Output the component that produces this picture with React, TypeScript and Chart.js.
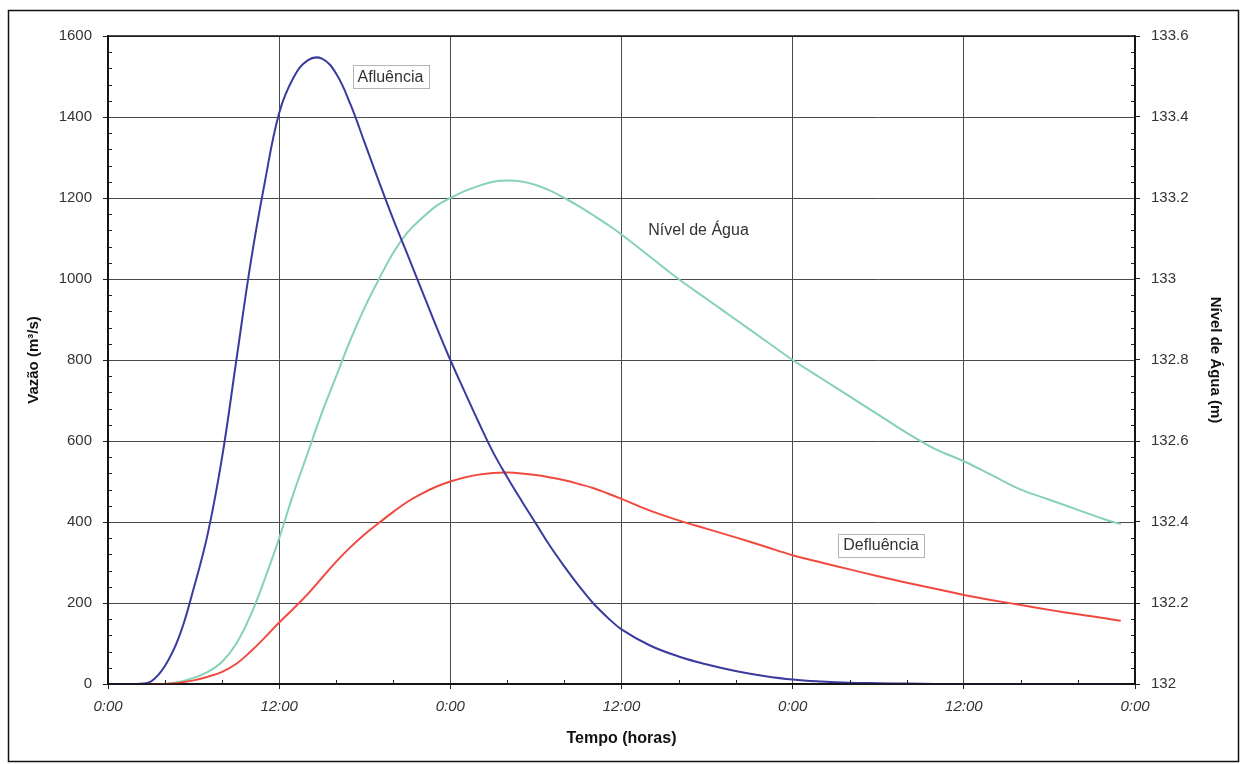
import React, { useEffect, useRef } from "react";
import { Chart, registerables } from "chart.js";

Chart.register(...registerables);

// Time in hours since start
const hours = [
  0, 1, 2, 3, 4, 5, 6, 7, 8, 9, 10, 11, 12, 13, 14, 15, 16, 17, 18, 19, 20,
  21, 22, 23, 24, 25, 26, 27, 28, 29, 30, 31, 32, 33, 34, 35, 36,
  38, 40, 42, 44, 46, 48, 50, 52, 54, 56, 58, 60, 62, 64, 66, 68, 70, 71,
];

// Afluência (m³/s)
const afluencia = [
  0, 0, 0, 6, 45, 118, 235, 372, 560, 800, 1040, 1240, 1410, 1497, 1540, 1544,
  1507, 1431, 1336, 1240, 1147, 1060, 972, 884, 800, 722, 645, 572, 510, 452,
  396, 340, 290, 243, 200, 165, 135,
  95, 68, 48, 32, 20, 11, 6, 3, 2, 1, 0, 0, 0, 0, 0, 0, 0, 0,
];

// Defluência (m³/s)
const defluencia = [
  0, 0, 0, 0, 0, 3, 9, 18, 30, 50, 80, 115, 152, 186, 222, 262, 302, 338, 370,
  398, 425, 450, 470, 487, 500, 510, 517, 521, 522, 520, 516, 510, 503, 494,
  484, 471, 457,
  428, 404, 383, 362, 340, 318, 300, 283, 266, 250, 235, 220, 207, 195, 183,
  172, 162, 156,
];

// Nível de Água (m)
const nivelAgua = [
  132, 132, 132, 132, 132, 132.005, 132.015, 132.03, 132.055, 132.1, 132.17,
  132.26, 132.36, 132.47, 132.57, 132.67, 132.76, 132.85, 132.93, 133.0,
  133.065, 133.115, 133.15, 133.18, 133.2, 133.217, 133.23, 133.24, 133.243,
  133.241, 133.232, 133.218, 133.2, 133.18, 133.158, 133.135, 133.11,
  133.055, 133.0, 132.95, 132.9, 132.85, 132.8, 132.755, 132.71, 132.665,
  132.62, 132.58, 132.55, 132.515, 132.48, 132.455, 132.43, 132.405, 132.395,
];

const xTickValues = [0, 12, 24, 36, 48, 60, 72];
const xTickLabels = ["0:00", "12:00", "0:00", "12:00", "0:00", "12:00", "0:00"];

const seriesNames = ["Afluência", "Defluência", "Nível de Água"];
const seriesColors = ["#3b3b9e", "#f04a40", "#86d2b3"];

// In-plot series labels (anchored in data coordinates: hours, m³/s)
const labelTexts = ["Afluência", "Nível de Água", "Defluência"];
const labelHours = [19.8, 41.4, 54.2];
const labelFlows = [1499, 1123, 343];
const labelBoxed = [true, false, true];

const FONT = "'Liberation Sans', Arial, Helvetica, sans-serif";

const decorPlugin = {
  id: "decor",
  afterDraw(chart: any) {
    const { ctx, chartArea, scales } = chart;
    const { left, right, top, bottom } = chartArea;
    ctx.save();

    // minor ticks (inward)
    ctx.strokeStyle = "#222";
    ctx.lineWidth = 1;
    ctx.beginPath();
    for (let v = 0; v <= 72; v += 4) {
      if (v % 12 === 0) continue;
      const px = Math.round(scales.x.getPixelForValue(v)) + 0.5;
      ctx.moveTo(px, bottom);
      ctx.lineTo(px, bottom - 4);
    }
    for (let v = 0; v <= 1600; v += 40) {
      if (v % 200 === 0) continue;
      const py = Math.round(scales.y.getPixelForValue(v)) + 0.5;
      ctx.moveTo(left, py);
      ctx.lineTo(left + 4, py);
    }
    for (let k = 0; k <= 40; k++) {
      if (k % 5 === 0) continue;
      const py = Math.round(scales.y2.getPixelForValue(132 + k * 0.04)) + 0.5;
      ctx.moveTo(right, py);
      ctx.lineTo(right - 4, py);
    }
    ctx.stroke();

    // plot frame
    ctx.strokeStyle = "#111";
    ctx.lineWidth = 1.5;
    ctx.strokeRect(left, top, right - left, bottom - top);

    // outer frame
    ctx.strokeStyle = "#111";
    ctx.lineWidth = 1.5;
    ctx.strokeRect(8.5, 10.5, 1230, 751);

    // series labels
    ctx.font = `16px ${FONT}`;
    ctx.textAlign = "center";
    ctx.textBaseline = "middle";
    for (let i = 0; i < labelTexts.length; i++) {
      const cx = scales.x.getPixelForValue(labelHours[i]);
      const cy = scales.y.getPixelForValue(labelFlows[i]);
      const w = ctx.measureText(labelTexts[i]).width + 10;
      const h = 23;
      if (labelBoxed[i]) {
        ctx.fillStyle = "#fff";
        ctx.fillRect(cx - w / 2, cy - h / 2, w, h);
        ctx.strokeStyle = "#b4b4b4";
        ctx.lineWidth = 1;
        ctx.strokeRect(Math.round(cx - w / 2) + 0.5, Math.round(cy - h / 2) + 0.5, Math.round(w), h);
      }
      ctx.fillStyle = "#333";
      ctx.fillText(labelTexts[i], cx, cy + 1);
    }
    ctx.restore();
  },
};

export default function App() {
  const ref = useRef<HTMLCanvasElement>(null);

  useEffect(() => {
    const canvas = ref.current;
    if (!canvas) return;

    const mk = (vals: number[]) => hours.map((h, i) => ({ x: h, y: vals[i] }));

    const lineStyle = {
      borderWidth: 2,
      pointRadius: 0,
      tension: 0.4,
    };

    const chart = new Chart(canvas, {
      type: "line",
      data: {
        datasets: [
          {
            label: seriesNames[0],
            data: mk(afluencia),
            borderColor: seriesColors[0],
            yAxisID: "y",
            ...lineStyle,
          },
          {
            label: seriesNames[1],
            data: mk(defluencia),
            borderColor: seriesColors[1],
            yAxisID: "y",
            ...lineStyle,
          },
          {
            label: seriesNames[2],
            data: mk(nivelAgua),
            borderColor: seriesColors[2],
            yAxisID: "y2",
            ...lineStyle,
          },
        ],
      },
      options: {
        animation: false,
        responsive: false,
        maintainAspectRatio: false,
        events: [],
        layout: { padding: { top: 36, left: 0, right: 0, bottom: 0 } },
        plugins: {
          legend: { display: false },
          tooltip: { enabled: false },
          title: { display: false },
        },
        scales: {
          x: {
            type: "linear",
            min: 0,
            max: 72,
            afterBuildTicks: (s: any) => {
              s.ticks = xTickValues.map((v) => ({ value: v }));
            },
            afterFit: (s: any) => {
              s.height = 80;
            },
            ticks: {
              autoSkip: false,
              maxRotation: 0,
              padding: 9,
              color: "#333",
              font: { family: FONT, size: 15, style: "italic" },
              callback: (v: any) => {
                const idx = xTickValues.indexOf(Number(v));
                return idx >= 0 ? xTickLabels[idx] : "";
              },
            },
            grid: { color: "#4a4a4a", lineWidth: 1, tickLength: 5, tickColor: "#222" },
            border: { color: "#111", width: 1.5 },
            title: {
              display: true,
              text: "Tempo (horas)",
              color: "#111",
              font: { family: FONT, size: 16, weight: "bold" },
              padding: { top: 0, bottom: 16 },
            },
          },
          y: {
            type: "linear",
            position: "left",
            min: 0,
            max: 1600,
            afterFit: (s: any) => {
              s.width = 108;
            },
            ticks: {
              stepSize: 200,
              padding: 11,
              color: "#333",
              font: { family: FONT, size: 15 },
              callback: (v: any) => String(v),
            },
            grid: { color: "#4a4a4a", lineWidth: 1, tickLength: 5, tickColor: "#222" },
            border: { color: "#111", width: 1.5 },
            title: {
              display: true,
              text: "Vazão (m³/s)",
              color: "#111",
              font: { family: FONT, size: 15, weight: "bold" },
              padding: { top: 25, bottom: 0 },
            },
          },
          y2: {
            type: "linear",
            position: "right",
            min: 132,
            max: 133.6,
            afterFit: (s: any) => {
              s.width = 108;
            },
            ticks: {
              stepSize: 0.2,
              padding: 11,
              color: "#333",
              font: { family: FONT, size: 15 },
              callback: (v: any) => String(Number(Number(v).toFixed(1))),
            },
            grid: { drawOnChartArea: false, tickLength: 5, tickColor: "#222" },
            border: { color: "#111", width: 1.5 },
            title: {
              display: true,
              text: "Nível de Água (m)",
              color: "#111",
              font: { family: FONT, size: 15, weight: "bold" },
              padding: { top: 19, bottom: 0 },
            },
          },
        },
      },
      plugins: [decorPlugin],
    } as any);

    return () => chart.destroy();
  }, []);

  return (
    <div
      style={{
        position: "fixed",
        left: 0,
        top: 0,
        width: 1243,
        height: 764,
        background: "#fff",
      }}
    >
      <canvas ref={ref} width={1243} height={764} style={{ display: "block" }} />
    </div>
  );
}
